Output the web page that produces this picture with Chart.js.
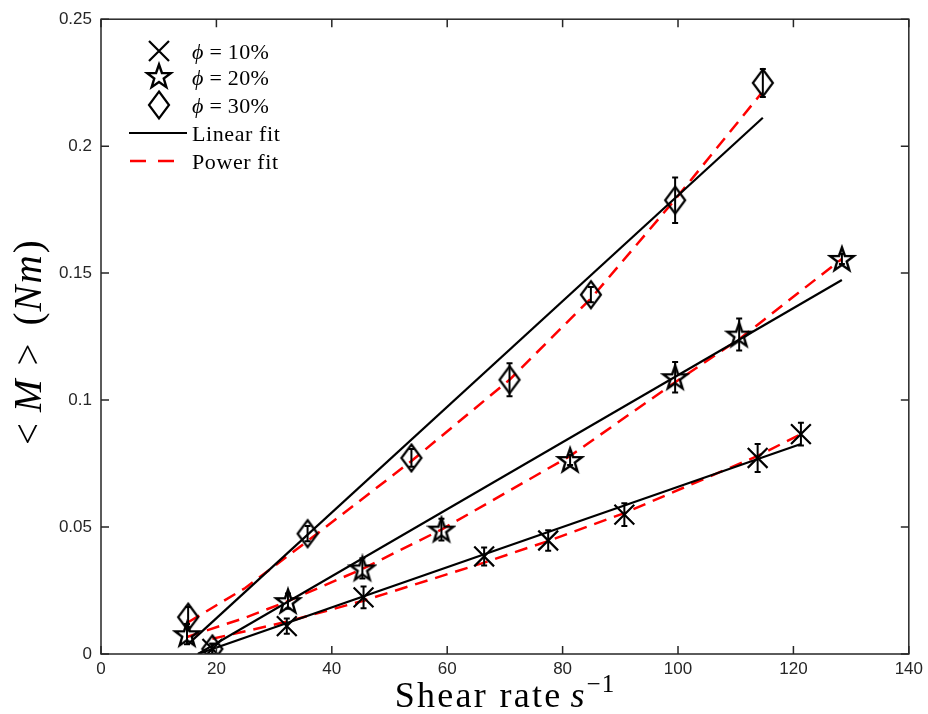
<!DOCTYPE html>
<html>
<head>
<meta charset="utf-8">
<script src="https://cdn.jsdelivr.net/npm/chart.js@4.4.1/dist/chart.umd.min.js"></script>
<style>
  html, body { margin: 0; padding: 0; background: #fff; }
  #wrap { width: 928px; height: 714px; }
</style>
</head>
<body>
<div id="wrap"><canvas id="torqueChart"></canvas></div>
<script>
// measured mean torque vs shear rate, one set per volume fraction
const rate10 = [19.3, 32.2, 45.5, 66.4, 77.5, 90.7, 113.8, 121.3];
const torque10 = [0.002, 0.011, 0.0223, 0.0384, 0.0447, 0.0549, 0.0772, 0.0866];
const err10 = [0.002, 0.003, 0.0043, 0.0035, 0.004, 0.0045, 0.0055, 0.0045];

const rate20 = [14.9, 32.4, 45.3, 59.0, 81.3, 99.5, 110.6, 128.4];
const torque20 = [0.0078, 0.0208, 0.0337, 0.049, 0.0764, 0.109, 0.1258, 0.1556];
const err20 = [0.004, 0.003, 0.004, 0.0043, 0.002, 0.006, 0.0063, 0.002];

const rate30 = [15.1, 19.3, 35.8, 53.8, 70.8, 84.9, 99.5, 114.7];
const torque30 = [0.0145, 0.002, 0.0474, 0.0772, 0.108, 0.1415, 0.1787, 0.2249];
const err30 = [0.004, 0.002, 0.003, 0.0035, 0.0065, 0.003, 0.009, 0.0055];

// fitted curves
const lin10X = [16.8, 121.3], lin10Y = [0, 0.0827];
const lin20X = [16.8, 128.4], lin20Y = [0, 0.1473];
const lin30X = [15.1, 114.7], lin30Y = [0.0039, 0.2112];

const pow10X = [19.3, 32.2, 45.5, 66.4, 77.5, 90.7, 113.8, 121.3];
const pow10Y = [0.006, 0.0127, 0.021, 0.036, 0.0445, 0.0555, 0.078, 0.0866];
const pow20X = [14.9, 25, 32.4, 45.3, 59, 81.3, 99.5, 110.6, 128.4];
const pow20Y = [0.0067, 0.0143, 0.0208, 0.0335, 0.049, 0.078, 0.107, 0.124, 0.1556];
const pow30X = [15.1, 25, 35.8, 53.8, 70.8, 84.9, 99.5, 114.5];
const pow30Y = [0.0125, 0.026, 0.0445, 0.076, 0.108, 0.140, 0.179, 0.221];

const xTicks = [0, 20, 40, 60, 80, 100, 120, 140];
const yTicks = [0, 0.05, 0.1, 0.15, 0.2, 0.25];

const legendLabels = ['10%', '20%', '30%'];

const AXIS_COLOR = '#262626';
const SERIF = '"Liberation Serif", "DejaVu Serif", serif';
const SANS = '"Liberation Sans", Arial, sans-serif';

function pts(xs, ys) {
    return xs.map((x, i) => ({ x: x, y: ys[i] }));
}

// outlined pentagram marker
function makeStar() {
    const c = document.createElement('canvas');
    c.width = 30; c.height = 30;
    const g = c.getContext('2d');
    g.beginPath();
    for (let k = 0; k < 10; k++) {
        const r = k % 2 ? 5 : 12.5;
        const a = -Math.PI / 2 + k * Math.PI / 5;
        g.lineTo(15 + r * Math.cos(a), 16 + r * Math.sin(a));
    }
    g.closePath();
    g.lineWidth = 2.4;
    g.strokeStyle = '#000';
    g.stroke();
    return c;
}

// tall diamond marker
function makeDiamond() {
    const c = document.createElement('canvas');
    c.width = 26; c.height = 32;
    const g = c.getContext('2d');
    g.beginPath();
    g.moveTo(13, 2.5); g.lineTo(23, 16); g.lineTo(13, 29.5); g.lineTo(3, 16);
    g.closePath();
    g.lineWidth = 2.2;
    g.strokeStyle = '#000';
    g.stroke();
    return c;
}

const starImg = makeStar();
const diamondImg = makeDiamond();

function markerSet(xs, ys, errs, style, radius) {
    return {
        data: pts(xs, ys),
        errorBars: errs,
        showLine: false,
        pointStyle: style,
        pointRadius: radius,
        pointBorderWidth: 2.2,
        borderColor: '#000',
        backgroundColor: 'rgba(0,0,0,0)',
        order: 0
    };
}

function fitSet(xs, ys, color, dash, width) {
    return {
        data: pts(xs, ys),
        showLine: true,
        pointRadius: 0,
        borderColor: color,
        borderWidth: width,
        borderDash: dash,
        fill: false,
        order: 1
    };
}

// rich text pieces: { t, it, size, rise, sp (letter spacing), gap (space after) }
function setFont(ctx, p) {
    ctx.font = (p.it ? 'italic ' : '') + p.size + 'px ' + SERIF;
}
function richWidth(ctx, parts) {
    let w = 0;
    parts.forEach(p => {
        setFont(ctx, p);
        for (const ch of p.t) w += ctx.measureText(ch).width + (p.sp || 0);
        w += p.gap || 0;
    });
    return w;
}
function drawRich(ctx, parts, x, y) {
    let cx = x;
    parts.forEach(p => {
        setFont(ctx, p);
        for (const ch of p.t) {
            ctx.fillText(ch, cx, y - (p.rise || 0));
            cx += ctx.measureText(ch).width + (p.sp || 0);
        }
        cx += p.gap || 0;
    });
}

const errorBarPlugin = {
    id: 'errorBars',
    afterDatasetsDraw(chart) {
        const ctx = chart.ctx;
        const xs = chart.scales.x, ys = chart.scales.y;
        const a = chart.chartArea;
        ctx.save();
        ctx.beginPath();
        ctx.rect(a.left, a.top, a.right - a.left, a.bottom - a.top);
        ctx.clip();
        ctx.strokeStyle = '#000';
        ctx.lineWidth = 2;
        chart.data.datasets.forEach(ds => {
            if (!ds.errorBars) return;
            ds.data.forEach((p, i) => {
                const e = ds.errorBars[i];
                const px = xs.getPixelForValue(p.x);
                const y1 = ys.getPixelForValue(p.y - e);
                const y2 = ys.getPixelForValue(p.y + e);
                ctx.beginPath();
                ctx.moveTo(px, y1); ctx.lineTo(px, y2);
                ctx.moveTo(px - 3, y1); ctx.lineTo(px + 3, y1);
                ctx.moveTo(px - 3, y2); ctx.lineTo(px + 3, y2);
                ctx.stroke();
            });
        });
        ctx.restore();
    }
};

const framePlugin = {
    id: 'frame',
    afterDraw(chart) {
        const ctx = chart.ctx;
        const a = chart.chartArea;
        const xs = chart.scales.x, ys = chart.scales.y;
        const tl = 8;
        ctx.save();
        ctx.strokeStyle = AXIS_COLOR;
        ctx.lineWidth = 1.5;
        ctx.strokeRect(a.left, a.top, a.right - a.left, a.bottom - a.top);
        ctx.beginPath();
        xTicks.forEach(v => {
            const px = xs.getPixelForValue(v);
            ctx.moveTo(px, a.bottom); ctx.lineTo(px, a.bottom - tl);
            ctx.moveTo(px, a.top); ctx.lineTo(px, a.top + tl);
        });
        yTicks.forEach(v => {
            const py = ys.getPixelForValue(v);
            ctx.moveTo(a.left, py); ctx.lineTo(a.left + tl, py);
            ctx.moveTo(a.right, py); ctx.lineTo(a.right - tl, py);
        });
        ctx.stroke();

        // axis titles
        ctx.fillStyle = '#000';
        ctx.textBaseline = 'alphabetic';
        ctx.textAlign = 'left';
        const xt = [
            { t: 'Shear rate', size: 36, sp: 2.3, gap: 8 },
            { t: 's', it: true, size: 36, gap: 2 },
            { t: '\u22121', size: 25, rise: 15, sp: 1 }
        ];
        const xw = richWidth(ctx, xt);
        drawRich(ctx, xt, (a.left + a.right) / 2 - xw / 2, 707);

        const yt = [
            { t: '<', size: 39, gap: 11 },
            { t: 'M', it: true, size: 39, gap: 14 },
            { t: '>', size: 39, gap: 18 },
            { t: '(', size: 39, sp: 1 },
            { t: 'Nm', it: true, size: 39, sp: 2 },
            { t: ')', size: 39 }
        ];
        ctx.save();
        ctx.translate(41, 445);
        ctx.rotate(-Math.PI / 2);
        drawRich(ctx, yt, 0, 0);
        ctx.restore();

        // legend
        const mx = 159, tx = 192;
        const rows = [51, 77, 105, 133, 161];
        ctx.strokeStyle = '#000';
        ctx.lineWidth = 2.2;
        ctx.beginPath();
        ctx.moveTo(mx - 10, rows[0] - 10); ctx.lineTo(mx + 10, rows[0] + 10);
        ctx.moveTo(mx + 10, rows[0] - 10); ctx.lineTo(mx - 10, rows[0] + 10);
        ctx.stroke();
        ctx.drawImage(starImg, mx - 15, rows[1] - 16);
        ctx.drawImage(diamondImg, mx - 13, rows[2] - 16);
        legendLabels.forEach((lab, i) => {
            drawRich(ctx, [
                { t: '\u03d5', it: true, size: 22, gap: 6 },
                { t: '=', size: 22, gap: 6 },
                { t: lab, size: 22, sp: 0.4 }
            ], tx, rows[i] + 8);
        });
        ctx.beginPath();
        ctx.moveTo(129, rows[3]); ctx.lineTo(187, rows[3]);
        ctx.lineWidth = 2.2;
        ctx.stroke();
        ctx.strokeStyle = '#ff0000';
        ctx.lineWidth = 2.5;
        ctx.setLineDash([16, 12]);
        ctx.beginPath();
        ctx.moveTo(130, rows[4]); ctx.lineTo(186, rows[4]);
        ctx.stroke();
        ctx.setLineDash([]);
        drawRich(ctx, [{ t: 'Linear fit', size: 22, sp: 0.6 }], tx, rows[3] + 8);
        drawRich(ctx, [{ t: 'Power fit', size: 22, sp: 0.6 }], tx, rows[4] + 8);
        ctx.restore();
    }
};

const ctx = document.getElementById('torqueChart').getContext('2d');
const torqueChart = new Chart(ctx, {
    type: 'scatter',
    data: {
        datasets: [
            markerSet(rate10, torque10, err10, 'crossRot', 14),
            markerSet(rate20, torque20, err20, starImg, 10),
            markerSet(rate30, torque30, err30, diamondImg, 10),
            fitSet(lin10X, lin10Y, '#000', [], 2.2),
            fitSet(lin20X, lin20Y, '#000', [], 2.2),
            fitSet(lin30X, lin30Y, '#000', [], 2.2),
            fitSet(pow10X, pow10Y, '#ff0000', [13, 8], 2.5),
            fitSet(pow20X, pow20Y, '#ff0000', [13, 8], 2.5),
            fitSet(pow30X, pow30Y, '#ff0000', [13, 8], 2.5)
        ]
    },
    options: {
        maintainAspectRatio: false,
        responsive: true,
        animation: false,
        layout: { padding: { top: 16, right: 18, left: 0, bottom: 0 } },
        plugins: {
            legend: { display: false },
            tooltip: { enabled: false }
        },
        scales: {
            x: {
                type: 'linear',
                min: 0,
                max: 140,
                afterBuildTicks: scale => { scale.ticks = xTicks.map(v => ({ value: v })); },
                afterFit: scale => { scale.height = 60; },
                grid: { display: false, drawTicks: false },
                border: { display: false },
                ticks: {
                    padding: 5,
                    color: AXIS_COLOR,
                    font: { family: SANS, size: 17 },
                    callback: v => String(v)
                }
            },
            y: {
                min: 0,
                max: 0.25,
                afterBuildTicks: scale => { scale.ticks = yTicks.map(v => ({ value: v })); },
                afterFit: scale => { scale.width = 101; },
                grid: { display: false, drawTicks: false },
                border: { display: false },
                ticks: {
                    padding: 9,
                    color: AXIS_COLOR,
                    font: { family: SANS, size: 17 },
                    callback: v => String(v)
                }
            }
        }
    },
    plugins: [errorBarPlugin, framePlugin]
});
</script>
</body>
</html>
